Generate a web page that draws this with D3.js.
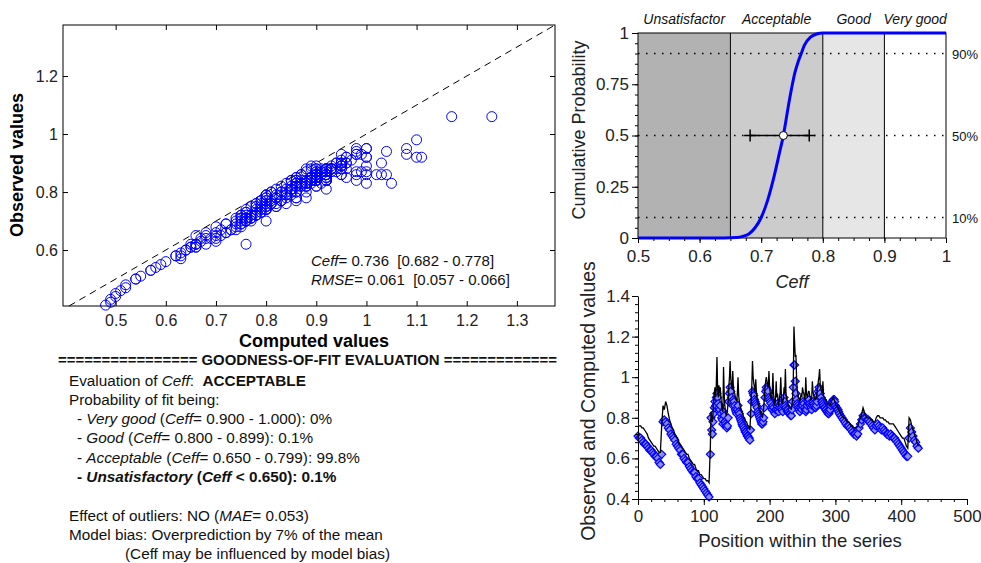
<!DOCTYPE html>
<html>
<head>
<meta charset="utf-8">
<script src="https://cdn.jsdelivr.net/npm/d3@7"></script>
<style>
  body { margin: 0; background: #fff; }
  svg { font-family: "Liberation Sans", Arial, sans-serif; }
</style>
</head>
<body>
<svg id="chart" width="981" height="563"></svg>
<script>
// positions within the series: every 2nd point on the smooth parts, every point on the spiky middle
const positions = d3.range(0, 110, 2).concat(d3.range(110, 306, 1), d3.range(306, 427, 2));

const observed = [
  // 0 - 108, step 2
  0.71,0.70,0.70,0.69,0.68,0.67,0.67,0.66,0.65,0.64,0.64,0.63,0.62,0.61,0.61,0.60,0.58,0.57,
  0.62,0.78,0.79,0.78,0.77,0.75,0.74,0.72,0.71,0.70,0.69,0.67,0.66,0.65,0.64,0.62,0.62,0.60,0.59,
  0.58,0.58,0.56,0.55,0.54,0.53,0.53,0.51,0.50,0.50,0.48,0.47,0.46,0.45,0.44,0.43,0.42,0.41,
  // 110 - 305, step 1
  0.62,0.80,0.74,0.72,0.78,0.82,0.85,0.88,0.86,0.90,
  0.92,0.90,0.87,0.85,0.84,0.86,0.82,0.80,0.79,0.77,
  0.83,0.81,0.78,0.77,0.76,0.75,0.76,0.80,0.88,0.92,
  0.95,0.93,0.90,0.88,0.86,0.89,0.88,0.86,0.84,0.83,
  0.82,0.84,0.86,0.83,0.82,0.80,0.79,0.78,0.77,0.76,
  0.76,0.75,0.74,0.73,0.73,0.72,0.71,0.71,0.70,0.70,
  0.69,0.74,0.82,0.88,0.93,0.92,0.91,0.89,0.88,0.87,
  0.86,0.85,0.83,0.82,0.81,0.80,0.79,0.78,0.77,0.77,
  0.78,0.80,0.85,0.90,0.93,0.95,0.94,0.92,0.93,0.90,
  0.89,0.88,0.87,0.85,0.84,0.86,0.85,0.83,0.82,0.84,
  0.84,0.86,0.87,0.84,0.83,0.85,0.86,0.87,0.85,0.84,
  0.83,0.86,0.90,0.88,0.86,0.85,0.84,0.83,0.84,0.83,
  0.82,0.82,0.81,0.81,0.84,0.88,0.95,1.06,1.06,0.98,
  0.92,0.89,0.87,0.86,0.85,0.84,0.83,0.85,0.86,0.84,
  0.86,0.88,0.87,0.85,0.84,0.83,0.84,0.86,0.88,0.87,
  0.89,0.87,0.86,0.85,0.84,0.86,0.88,0.87,0.86,0.85,
  0.85,0.86,0.88,0.91,0.93,0.95,0.94,0.92,0.90,0.88,
  0.88,0.87,0.86,0.85,0.85,0.84,0.84,0.83,0.83,0.82,
  0.82,0.83,0.84,0.86,0.87,0.88,0.88,0.89,0.89,0.88,
  0.86,0.85,0.85,0.84,0.84,0.83,
  // 306 - 426, step 2
  0.82,0.81,0.80,0.79,0.78,0.77,0.76,0.76,0.75,0.74,0.73,0.72,0.72,0.71,0.72,0.75,0.77,0.79,0.81,0.80,
  0.80,0.79,0.79,0.78,0.77,0.76,0.75,0.74,0.76,0.77,0.76,0.75,0.74,0.75,0.74,0.73,0.72,0.72,
  0.71,0.72,0.71,0.70,0.70,0.69,0.68,0.67,0.66,0.65,0.64,0.63,0.62,0.61,0.61,
  0.70,0.75,0.73,0.71,0.69,0.68,0.66,0.65
];

const computed = [
  // 0 - 108, step 2
  0.76,0.76,0.76,0.75,0.75,0.74,0.73,0.72,0.70,0.69,0.68,0.67,0.66,0.66,0.65,0.64,0.63,0.63,
  0.76,0.86,0.84,0.88,0.86,0.82,0.79,0.77,0.75,0.74,0.72,0.71,0.70,0.68,0.67,0.66,0.65,0.64,0.63,
  0.62,0.62,0.60,0.59,0.58,0.57,0.57,0.55,0.54,0.54,0.52,0.52,0.51,0.50,0.50,0.49,0.49,0.48,
  // 110 - 305, step 1
  0.66,0.83,0.80,0.78,0.82,0.88,0.92,0.95,0.90,0.96,
  1.10,0.94,0.90,0.96,0.92,0.95,0.90,0.86,0.84,0.83,
  1.05,0.92,0.86,0.83,0.81,0.82,0.84,0.88,0.95,1.00,
  1.08,0.99,0.96,0.94,1.03,0.95,0.93,0.92,0.90,0.89,
  0.88,0.92,1.00,0.91,0.88,0.86,0.85,0.84,0.83,0.82,
  0.81,0.80,0.80,0.79,0.78,0.78,0.77,0.76,0.76,0.75,
  0.74,0.80,0.90,0.96,1.08,1.00,0.97,0.95,0.93,0.99,
  0.92,0.90,0.88,0.86,0.85,0.84,0.83,0.82,0.81,0.80,
  0.82,0.85,0.90,0.95,0.98,1.00,0.98,0.96,0.95,1.03,
  0.95,0.92,0.90,0.89,0.92,1.02,0.92,0.88,0.86,0.90,
  0.98,0.90,0.92,0.88,0.86,0.90,0.92,1.00,0.90,0.88,
  0.87,0.90,0.95,0.92,1.04,0.92,0.89,0.88,0.87,0.86,
  0.86,0.85,0.85,0.84,0.86,0.90,0.98,1.25,1.17,1.10,
  1.11,1.00,0.94,0.92,0.90,0.89,0.88,0.90,0.92,0.90,
  0.95,0.93,0.92,0.90,0.89,1.00,0.92,0.90,0.91,0.93,
  0.93,0.91,0.90,0.89,0.90,0.98,0.93,0.91,0.90,0.89,
  0.89,0.90,0.92,0.95,0.98,1.00,1.04,0.96,0.94,0.93,
  0.92,0.98,0.91,0.90,0.90,0.89,0.89,0.88,0.87,0.87,
  0.87,0.86,0.86,0.87,0.88,0.89,0.90,0.90,0.89,0.88,
  0.87,0.86,0.86,0.85,0.85,0.84,
  // 306 - 426, step 2
  0.83,0.82,0.81,0.80,0.80,0.79,0.78,0.78,0.77,0.76,0.76,0.75,0.75,0.75,0.76,0.78,0.80,0.82,0.85,0.83,
  0.81,0.80,0.80,0.80,0.79,0.79,0.78,0.78,0.80,0.81,0.81,0.80,0.80,0.80,0.79,0.79,0.78,0.78,
  0.77,0.77,0.77,0.77,0.76,0.75,0.74,0.73,0.72,0.71,0.70,0.70,0.68,0.66,0.65,
  0.80,0.79,0.76,0.74,0.72,0.70,0.68,0.66
];

// cumulative distribution of Ceff
const cdfCeff = [0.5, 0.62, 0.66, 0.67, 0.68, 0.69, 0.70, 0.71, 0.72, 0.73, 0.736, 0.74, 0.745, 0.75, 0.755, 0.76, 0.765, 0.77, 0.78, 0.79, 0.80, 0.83, 1.0];
const cdfProb = [0, 0, 0.003, 0.008, 0.02, 0.05, 0.1, 0.18, 0.29, 0.42, 0.5, 0.57, 0.66, 0.74, 0.81, 0.86, 0.9, 0.94, 0.98, 0.995, 1, 1, 1];
const ceffMedian = 0.736, ceffLow = 0.682, ceffHigh = 0.778;
const rmse = 0.061, rmseLow = 0.057, rmseHigh = 0.066;

const classNames = ["Unsatisfactor", "Acceptable", "Good", "Very good"];
const classBounds = [0.5, 0.65, 0.8, 0.9, 1];
const quantiles = [0.1, 0.5, 0.9];

const fitClasses = ["Very good", "Good", "Acceptable", "Unsatisfactory"];
const fitRanges = ["= 0.900 - 1.000", "= 0.800 - 0.899", "= 0.650 - 0.799", " < 0.650"];
const fitProbs = ["0%", "0.1%", "99.8%", "0.1%"];

const svg = d3.select("#chart");
const blue = "#0000ff";
const fmt = d3.format("~g");

function cleanAxis(g, size) {
  g.attr("font-family", null).attr("font-size", size);
  g.selectAll("text").attr("fill", "#222");
  g.selectAll("line").attr("stroke", "#000");
  return g;
}

// ---------- scatter: computed vs observed ----------
const sx = d3.scaleLinear().domain([0.395, 1.376]).range([63, 555]);
const sy = d3.scaleLinear().domain([0.407, 1.376]).range([306, 25]);
const sc = svg.append("g");

sc.append("line")
  .attr("x1", sx(0.407)).attr("y1", sy(0.407))
  .attr("x2", sx(1.376)).attr("y2", sy(1.376))
  .attr("stroke", "#000").attr("stroke-dasharray", "7,5");

sc.append("g").selectAll("circle")
  .data(positions.map((p, i) => [computed[i], observed[i]]))
  .join("circle")
  .attr("cx", d => sx(d[0]))
  .attr("cy", d => sy(d[1]))
  .attr("r", 5)
  .attr("fill", "none")
  .attr("stroke", blue);

const sxTicks = [0.5, 0.6, 0.7, 0.8, 0.9, 1, 1.1, 1.2, 1.3];
const syTicks = [0.6, 0.8, 1, 1.2];
sc.append("g").attr("transform", "translate(0,306)")
  .call(d3.axisBottom(sx).tickValues(sxTicks).tickSize(-5).tickSizeOuter(0).tickPadding(9).tickFormat(fmt))
  .call(g => cleanAxis(g, 16)).call(g => g.select(".domain").remove());
sc.append("g").attr("transform", "translate(0,25)")
  .call(d3.axisTop(sx).tickValues(sxTicks).tickSize(-5).tickFormat(""))
  .call(g => cleanAxis(g, 16)).call(g => g.select(".domain").remove());
sc.append("g").attr("transform", "translate(63,0)")
  .call(d3.axisLeft(sy).tickValues(syTicks).tickSize(-5).tickPadding(5).tickFormat(fmt))
  .call(g => cleanAxis(g, 16)).call(g => g.select(".domain").remove());
sc.append("g").attr("transform", "translate(555,0)")
  .call(d3.axisRight(sy).tickValues(syTicks).tickSize(-5).tickFormat(""))
  .call(g => cleanAxis(g, 16)).call(g => g.select(".domain").remove());

sc.append("rect").attr("x", 63).attr("y", 25).attr("width", 492).attr("height", 281)
  .attr("fill", "none").attr("stroke", "#000");

sc.append("text").attr("x", 314).attr("y", 347).attr("text-anchor", "middle")
  .attr("font-size", 18).attr("font-weight", "bold").text("Computed values");
sc.append("text").attr("transform", "translate(23,165) rotate(-90)").attr("text-anchor", "middle")
  .attr("font-size", 18).attr("font-weight", "bold").text("Observed values");

function richText(g, x, y, parts, size) {
  const t = g.append("text").attr("x", x).attr("y", y).attr("font-size", size)
    .attr("fill", "#111").style("white-space", "pre");
  parts.forEach(([s, st]) => {
    const ts = t.append("tspan").text(s);
    if (st && st.includes("i")) ts.attr("font-style", "italic");
    if (st && st.includes("b")) ts.attr("font-weight", "bold");
  });
  return t;
}

richText(sc, 311, 266, [["Ceff", "i"], [`= ${ceffMedian.toFixed(3)}  [${ceffLow.toFixed(3)} - ${ceffHigh.toFixed(3)}]`]], 15);
richText(sc, 311, 285, [["RMSE", "i"], [`= ${rmse.toFixed(3)}  [${rmseLow.toFixed(3)} - ${rmseHigh.toFixed(3)}]`]], 15);

// ---------- goodness-of-fit text ----------
const tb = svg.append("g");
const fs = 15.3;
richText(tb, 58, 365, [["================ GOODNESS-OF-FIT EVALUATION =============", "b"]], 14)
  .attr("textLength", 499).attr("lengthAdjust", "spacingAndGlyphs");
richText(tb, 69, 386, [["Evaluation of "], ["Ceff", "i"], [":  "], ["ACCEPTABLE", "b"]], fs);
richText(tb, 69, 405, [["Probability of fit being:"]], fs);
fitClasses.forEach((c, i) => {
  const y = 424 + i * 19.3;
  if (i < 3) {
    richText(tb, 77, y, [["- "], [c, "i"], [" ("], ["Ceff", "i"], [`${fitRanges[i]}): ${fitProbs[i]}`]], fs);
  } else {
    richText(tb, 77, y, [["- ", "b"], [c, "bi"], [" (", "b"], ["Ceff", "bi"], [`${fitRanges[i]}): ${fitProbs[i]}`, "b"]], fs);
  }
});
richText(tb, 69, 521, [["Effect of outliers: NO ("], ["MAE", "i"], ["= 0.053)"]], fs);
richText(tb, 69, 540, [["Model bias: Overprediction by 7% of the mean"]], fs);
richText(tb, 125, 559, [["(Ceff may be influenced by model bias)"]], fs);

// ---------- cumulative probability of Ceff ----------
const cx = d3.scaleLinear().domain([0.5, 1]).range([638, 946]);
const cy = d3.scaleLinear().domain([0, 1]).range([238, 33]);
const cd = svg.append("g");
const bandFills = ["#b2b2b2", "#cccccc", "#e6e6e6", "#ffffff"];

cd.append("g").selectAll("rect")
  .data(classNames)
  .join("rect")
  .attr("x", (d, i) => cx(classBounds[i]))
  .attr("y", cy(1))
  .attr("width", (d, i) => cx(classBounds[i + 1]) - cx(classBounds[i]))
  .attr("height", cy(0) - cy(1))
  .attr("fill", (d, i) => bandFills[i]);

cd.append("g").selectAll("line")
  .data(classBounds.slice(1, 4))
  .join("line")
  .attr("x1", d => cx(d)).attr("x2", d => cx(d))
  .attr("y1", cy(0)).attr("y2", cy(1))
  .attr("stroke", "#000");

cd.append("g").selectAll("line")
  .data(quantiles)
  .join("line")
  .attr("x1", cx(0.5)).attr("x2", cx(1))
  .attr("y1", d => cy(d)).attr("y2", d => cy(d))
  .attr("stroke", "#000").attr("stroke-width", 1.3).attr("stroke-dasharray", "1.5,6.5");

cd.append("rect").attr("x", cx(0.5)).attr("y", cy(1))
  .attr("width", cx(1) - cx(0.5)).attr("height", cy(0) - cy(1))
  .attr("fill", "none").attr("stroke", "#000");

cd.append("path")
  .datum(cdfCeff.map((c, i) => [c, cdfProb[i]]))
  .attr("d", d3.line().x(d => cx(d[0])).y(d => cy(d[1])).curve(d3.curveMonotoneX))
  .attr("fill", "none").attr("stroke", blue).attr("stroke-width", 3);

// interval around the median
cd.append("line").attr("x1", cx(ceffLow)).attr("x2", cx(ceffHigh))
  .attr("y1", cy(0.5)).attr("y2", cy(0.5)).attr("stroke", "#000").attr("stroke-width", 1.5);
[ceffLow, ceffHigh].forEach(v => {
  cd.append("path")
    .attr("d", `M${cx(v) - 6},${cy(0.5)}H${cx(v) + 6}M${cx(v)},${cy(0.5) - 6}V${cy(0.5) + 6}`)
    .attr("stroke", "#000").attr("stroke-width", 1.5);
});
cd.append("circle").attr("cx", cx(ceffMedian)).attr("cy", cy(0.5)).attr("r", 4)
  .attr("fill", "#fff").attr("stroke", "#000");

cd.append("g").attr("transform", `translate(${cx(0.5)},0)`)
  .call(d3.axisLeft(cy).tickValues(d3.range(0, 1.001, 0.05)).tickSize(3).tickFormat(""))
  .call(g => cleanAxis(g, 16)).call(g => g.select(".domain").remove());
cd.append("g").attr("transform", `translate(${cx(0.5)},0)`)
  .call(d3.axisLeft(cy).tickValues([0, 0.25, 0.5, 0.75, 1]).tickSize(6).tickPadding(3).tickFormat(fmt))
  .call(g => cleanAxis(g, 17)).call(g => g.select(".domain").remove());
cd.append("g").attr("transform", `translate(0,${cy(0)})`)
  .call(d3.axisBottom(cx).tickValues(d3.range(0.5, 1.001, 0.025)).tickSize(3).tickFormat(""))
  .call(g => cleanAxis(g, 16)).call(g => g.select(".domain").remove());
cd.append("g").attr("transform", `translate(0,${cy(0)})`)
  .call(d3.axisBottom(cx).tickValues([0.5, 0.6, 0.7, 0.8, 0.9, 1]).tickSize(5).tickPadding(7).tickFormat(fmt))
  .call(g => cleanAxis(g, 17)).call(g => g.select(".domain").remove());

cd.append("g").selectAll("text")
  .data(classNames)
  .join("text")
  .attr("x", (d, i) => (cx(classBounds[i]) + cx(classBounds[i + 1])) / 2)
  .attr("y", 24)
  .attr("text-anchor", "middle")
  .attr("font-size", 14).attr("font-style", "italic").attr("fill", "#111")
  .text(d => d);

cd.append("g").selectAll("text")
  .data(quantiles)
  .join("text")
  .attr("x", cx(1) + 6)
  .attr("y", d => cy(d) + 5)
  .attr("font-size", 13).attr("fill", "#111")
  .text(d => `${Math.round(d * 100)}%`);

cd.append("text").attr("x", (cx(0.5) + cx(1)) / 2).attr("y", 288).attr("text-anchor", "middle")
  .attr("font-size", 18).attr("font-style", "italic").attr("fill", "#222").text("Ceff");
cd.append("text").attr("transform", "translate(585,130) rotate(-90)").attr("text-anchor", "middle")
  .attr("font-size", 18).attr("fill", "#222").text("Cumulative Probability");

// ---------- observed and computed along the series ----------
const tx = d3.scaleLinear().domain([0, 500]).range([638, 967]);
const ty = d3.scaleLinear().domain([0.4, 1.4]).range([499, 296]);
const ts = svg.append("g");

const diamond = "M0,-4L4,0L0,4L-4,0Z";
ts.append("g").selectAll("path")
  .data(positions.map((p, i) => [p, observed[i]]))
  .join("path")
  .attr("transform", d => `translate(${tx(d[0])},${ty(d[1])})`)
  .attr("d", diamond)
  .attr("fill", "#8c8cff")
  .attr("stroke", blue)
  .attr("stroke-width", 1.2);

ts.append("path")
  .datum(positions.map((p, i) => [p, computed[i]]))
  .attr("d", d3.line().x(d => tx(d[0])).y(d => ty(d[1])))
  .attr("fill", "none").attr("stroke", "#000").attr("stroke-width", 1.3);

ts.append("g").attr("transform", "translate(638,0)")
  .call(d3.axisLeft(ty).tickValues(d3.range(0.4, 1.401, 0.04)).tickSize(3).tickFormat(""))
  .call(g => cleanAxis(g, 16)).call(g => g.select(".domain").remove());
ts.append("g").attr("transform", "translate(638,0)")
  .call(d3.axisLeft(ty).tickValues([0.4, 0.6, 0.8, 1, 1.2, 1.4]).tickSize(6).tickSizeOuter(0).tickPadding(2).tickFormat(fmt))
  .call(g => cleanAxis(g, 17)).call(g => g.select(".domain").attr("stroke", "#000"));
ts.append("g").attr("transform", "translate(0,499)")
  .call(d3.axisBottom(tx).tickValues(d3.range(0, 501, 20)).tickSize(3).tickFormat(""))
  .call(g => cleanAxis(g, 16)).call(g => g.select(".domain").remove());
ts.append("g").attr("transform", "translate(0,499)")
  .call(d3.axisBottom(tx).tickValues([0, 100, 200, 300, 400, 500]).tickSize(6).tickSizeOuter(0).tickPadding(5))
  .call(g => cleanAxis(g, 17)).call(g => g.select(".domain").attr("stroke", "#000"));

ts.append("text").attr("x", 800).attr("y", 547).attr("text-anchor", "middle")
  .attr("font-size", 18.5).attr("fill", "#222").text("Position within the series");
ts.append("text").attr("transform", "translate(595,401) rotate(-90)").attr("text-anchor", "middle")
  .attr("font-size", 19.5).attr("fill", "#222").text("Observed and Computed values");
</script>
</body>
</html>
